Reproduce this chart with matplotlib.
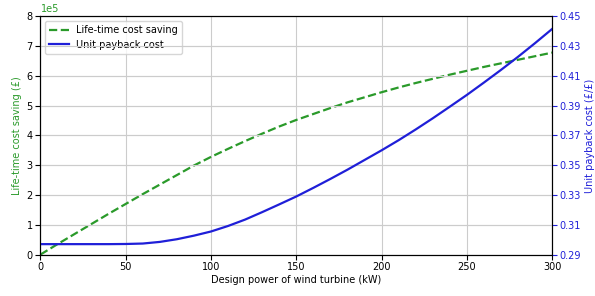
import numpy as np
import matplotlib.pyplot as plt

# design power (kW)
power = list(range(0, 301, 10))
# life-time cost saving (x1e5 GBP)
saving = [0, 0.35, 0.69, 1.03, 1.37, 1.70, 2.03, 2.35, 2.67, 2.99, 3.28,
          3.55, 3.81, 4.06, 4.30, 4.52, 4.72, 4.92, 5.11, 5.28, 5.45,
          5.61, 5.76, 5.90, 6.04, 6.17, 6.30, 6.42, 6.54, 6.66, 6.78]
# unit payback cost
payback = [0.2970, 0.2970, 0.2970, 0.2970, 0.2970, 0.2971, 0.2974, 0.2985,
           0.3003, 0.3027, 0.3055, 0.3092, 0.3135, 0.3185, 0.3237, 0.3290,
           0.3348, 0.3408, 0.3470, 0.3535, 0.3600, 0.3668, 0.3740, 0.3815,
           0.3893, 0.3972, 0.4055, 0.4140, 0.4228, 0.4320, 0.4415]

green = '#2a9a2a'
blue = '#1f1fd8'

fig, ax = plt.subplots(figsize=(5.95, 2.96), dpi=100)
ax2 = ax.twinx()

l1, = ax.plot(power, np.array(saving) * 1e5, '--', color=green, lw=1.6,
              label='Life-time cost saving')
l2, = ax2.plot(power, payback, '-', color=blue, lw=1.6, label='Unit payback cost')

ax.set_xlim(0, 300)
ax.set_ylim(0, 8e5)
ax.ticklabel_format(axis='y', style='sci', scilimits=(0, 0))
ax2.set_ylim(0.29, 0.45)
ax2.set_yticks(np.arange(0.29, 0.4501, 0.02))
ax.grid(True, color='#cccccc', lw=0.8)
ax2.grid(True, color='#cccccc', lw=0.8)

ax.set_xlabel('Design power of wind turbine (kW)', fontsize=7, labelpad=2)
ax.set_ylabel('Life-time cost saving (£)', color=green, fontsize=7, labelpad=3)
ax2.set_ylabel('Unit payback cost (£/£)', color=blue, fontsize=7, labelpad=3)
ax.tick_params(labelsize=7, pad=2)
ax2.tick_params(labelsize=7, colors=blue, pad=2)
ax.yaxis.get_offset_text().set_fontsize(7)
ax.yaxis.get_offset_text().set_color(green)

ax.legend(handles=[l1, l2], loc='upper left', fontsize=7)

fig.subplots_adjust(left=0.068, right=0.928, top=0.945, bottom=0.14)
fig.savefig('out.png')
